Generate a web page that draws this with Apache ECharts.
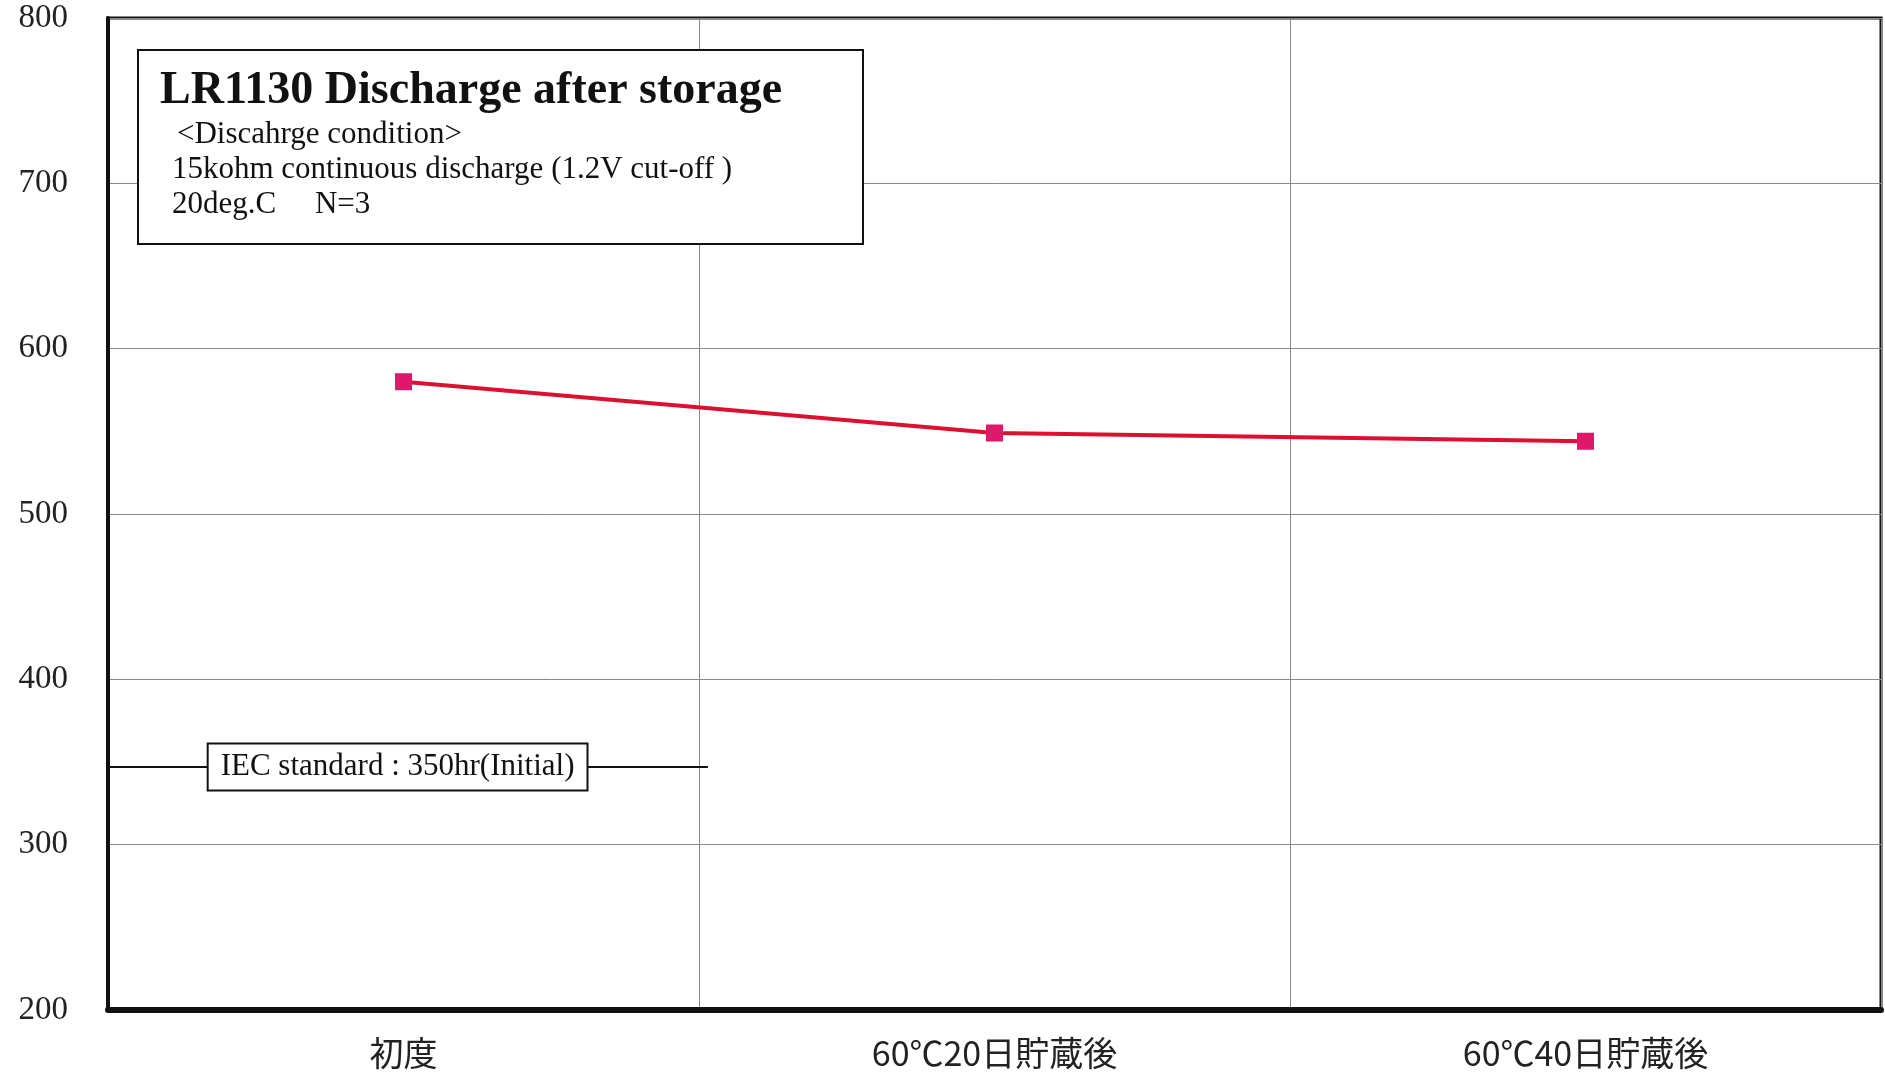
<!DOCTYPE html>
<html><head><meta charset="utf-8">
<script src="https://cdn.jsdelivr.net/npm/echarts@6/dist/echarts.min.js"></script>
<style>html,body{margin:0;padding:0;background:#fff}#c{width:1885px;height:1080px}</style>
</head><body><div id="c"></div>
<script>
const categories = ['初度', '60℃20日貯蔵後', '60℃40日貯蔵後'];
const dischargeHours = [580, 549, 544];
const yTicks = { min: 200, max: 800, interval: 100 };
const iecStandard = 347;
const iecLabel = 'IEC standard : 350hr(Initial)';
const titleLines = ['LR1130 Discharge after storage', '<Discahrge condition>', '15kohm continuous discharge (1.2V cut-off )', '20deg.C    N=3'];

const chart = echarts.init(document.getElementById('c'));
const serif = '"Liberation Serif","DejaVu Serif",serif';
chart.setOption({
  backgroundColor: '#fff',
  animation: false,
  grid: { left: 108, right: 4, top: 18, bottom: 70, show: true, borderColor: '#111', borderWidth: 3, outerBoundsMode: 'none' },
  xAxis: [{
    type: 'category', data: categories, boundaryGap: true,
    axisLine: { show: true, lineStyle: { color: '#111', width: 6 } },
    axisTick: { show: false },
    axisLabel: { margin: 26, fontSize: 34, color: '#222', fontFamily: '"Noto Sans CJK JP",sans-serif' },
    splitLine: { show: true, lineStyle: { color: '#888', width: 1 } }
  }, {
    type: 'value', min: 0, max: 3, show: false
  }],
  yAxis: {
    type: 'value', min: yTicks.min, max: yTicks.max, interval: yTicks.interval,
    axisLine: { show: true, lineStyle: { color: '#111', width: 4 } },
    axisTick: { show: false },
    axisLabel: { margin: 40, fontSize: 33, color: '#222', fontFamily: serif },
    splitLine: { show: true, lineStyle: { color: '#888', width: 1 } }
  },
  series: [{
    type: 'line', data: dischargeHours,
    symbol: 'rect', symbolSize: 17,
    lineStyle: { color: '#dc1030', width: 4 },
    itemStyle: { color: '#e0186a' },
    z: 5
  }, {
    type: 'line', xAxisIndex: 1,
    data: [[0, iecStandard], [1.015, iecStandard]],
    symbol: 'none',
    lineStyle: { color: '#111', width: 2 },
    markPoint: {
      symbol: 'rect', symbolSize: 1, itemStyle: { color: 'transparent' },
      data: [{ coord: [0.49, iecStandard] }],
      label: {
        show: true, position: 'inside', formatter: iecLabel,
        fontSize: 31, fontFamily: serif, color: '#111',
        backgroundColor: '#fff', borderColor: '#111', borderWidth: 2,
        padding: [8, 12, 6, 12]
      }
    }
  }],
  graphic: [{
    type: 'rect', left: 137, top: 49,
    shape: { width: 725, height: 194 },
    style: { fill: '#fff', stroke: '#111', lineWidth: 2 }, z: 10
  }, {
    type: 'text', left: 160, top: 68, z: 11,
    style: { text: titleLines[0], font: 'bold 46px ' + serif, fill: '#111' }
  }, {
    type: 'text', left: 177, top: 119, z: 11,
    style: { text: titleLines[1], font: '31px ' + serif, fill: '#111' }
  }, {
    type: 'text', left: 172, top: 154, z: 11,
    style: { text: titleLines[2], font: '31px ' + serif, fill: '#111' }
  }, {
    type: 'text', left: 172, top: 189, z: 11,
    style: { text: titleLines[3].replace('    ', '\u2003 '), font: '31px ' + serif, fill: '#111' }
  }]
});
</script></body></html>
